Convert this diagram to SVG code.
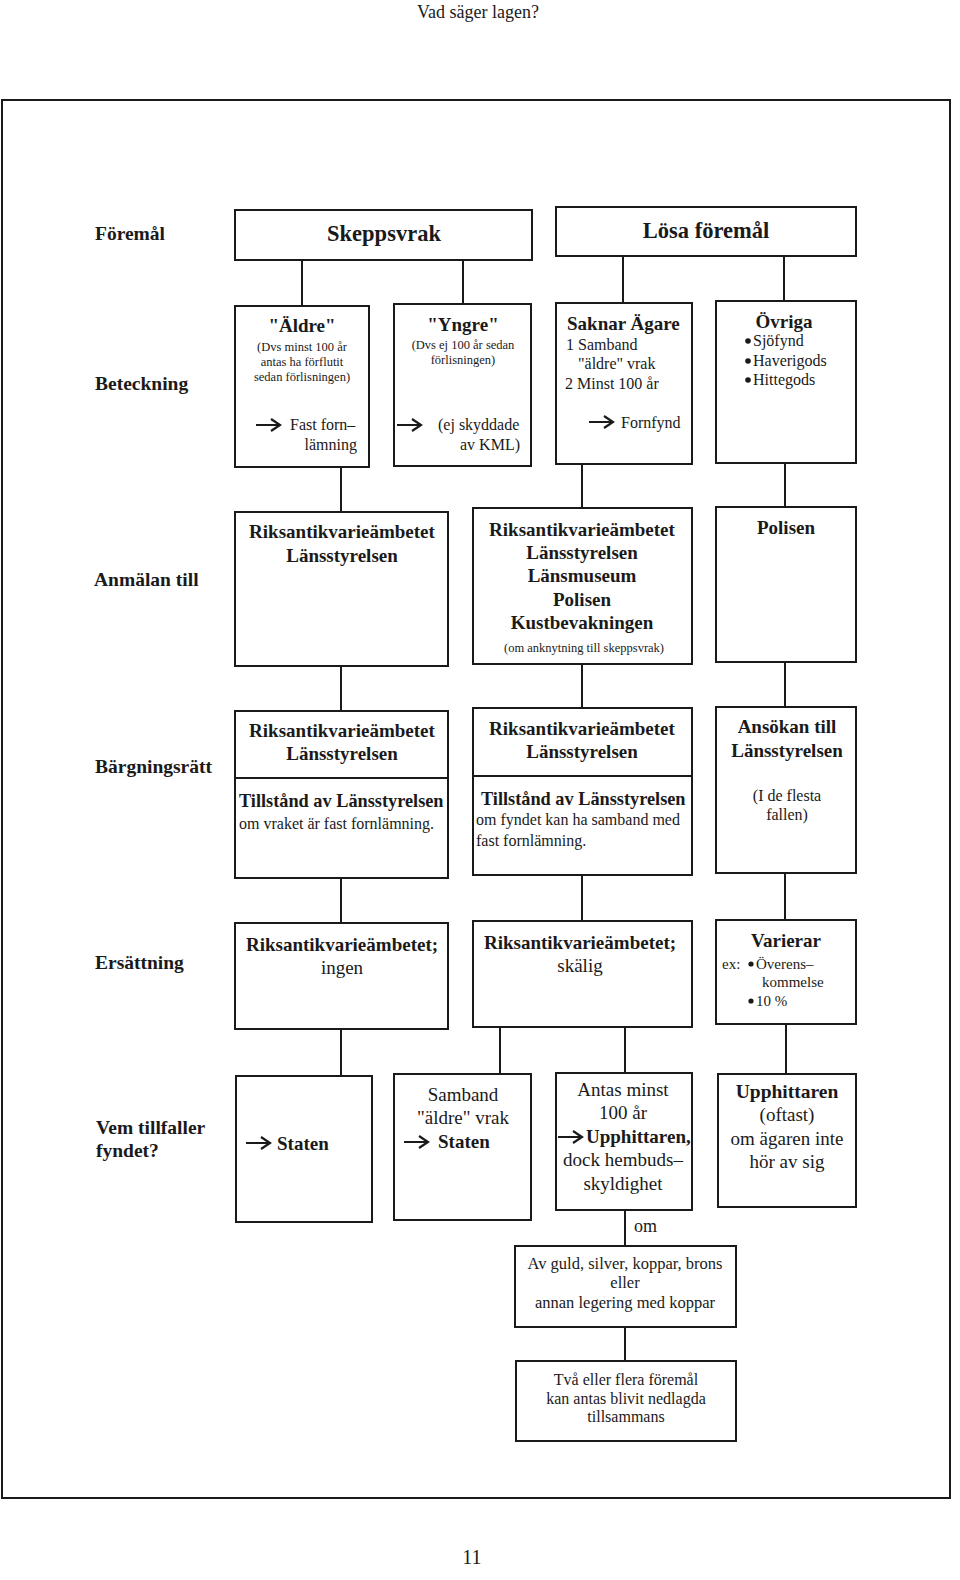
<svg xmlns="http://www.w3.org/2000/svg" width="960" height="1580" viewBox="0 0 960 1580">
<style>
text{font-family:"Liberation Serif","Times New Roman",serif;fill:#1a1a1a}
.b{font-weight:bold}
.c{text-anchor:middle}
.lbl{font-size:19.5px;font-weight:bold}
.box{fill:#fff;stroke:#1a1a1a;stroke-width:2}
.con line{stroke:#1a1a1a;stroke-width:2}
.s12{font-size:12.5px}
.s15{font-size:16px}
.s17{font-size:18px}
.s18{font-size:19px}
.dot{fill:#1a1a1a}
</style>
<defs>
<path id="arr" d="M0 0 H23 M15 -6 L24 0 L15 6" fill="none" stroke="#1a1a1a" stroke-width="2.2"/>
</defs>
<rect x="0" y="0" width="960" height="1580" fill="#fff"/>
<text x="478" y="18" class="c" style="font-size:18px">Vad säger lagen?</text>
<rect x="2" y="100" width="948" height="1398" fill="none" stroke="#1a1a1a" stroke-width="2"/>
<text x="472" y="1564" class="c" style="font-size:20px">11</text>

<g id="labels">
<text x="95" y="240" class="lbl">Föremål</text>
<text x="95" y="390" class="lbl">Beteckning</text>
<text x="94" y="586" class="lbl">Anmälan till</text>
<text x="95" y="773" class="lbl">Bärgningsrätt</text>
<text x="95" y="969" class="lbl">Ersättning</text>
<text x="96" y="1134" class="lbl">Vem tillfaller</text>
<text x="96" y="1157" class="lbl">fyndet?</text>
</g>

<g class="con" id="connectors">
<line x1="302" y1="260" x2="302" y2="306"/>
<line x1="463" y1="260" x2="463" y2="304"/>
<line x1="623" y1="256" x2="623" y2="303"/>
<line x1="784" y1="256" x2="784" y2="301"/>
<line x1="341" y1="467" x2="341" y2="512"/>
<line x1="582" y1="464" x2="582" y2="508"/>
<line x1="785" y1="463" x2="785" y2="507"/>
<line x1="341" y1="666" x2="341" y2="711"/>
<line x1="582" y1="664" x2="582" y2="708"/>
<line x1="785" y1="662" x2="785" y2="707"/>
<line x1="341" y1="878" x2="341" y2="923"/>
<line x1="582" y1="875" x2="582" y2="921"/>
<line x1="785" y1="873" x2="785" y2="920"/>
<line x1="341" y1="1029" x2="341" y2="1076"/>
<line x1="500" y1="1027" x2="500" y2="1074"/>
<line x1="625" y1="1027" x2="625" y2="1073"/>
<line x1="786" y1="1024" x2="786" y2="1074"/>
<line x1="625" y1="1210" x2="625" y2="1246"/>
<line x1="625" y1="1327" x2="625" y2="1361"/>
<text x="634" y="1232" class="s17">om</text>
</g>

<g id="skeppsvrak">
<rect class="box" x="235" y="210" width="297" height="50"/>
<text x="384" y="241" class="b c" style="font-size:22.5px">Skeppsvrak</text>
</g>
<g id="losa">
<rect class="box" x="556" y="207" width="300" height="49"/>
<text x="706" y="238" class="b c" style="font-size:22.5px">Lösa föremål</text>
</g>

<g id="aldre">
<rect class="box" x="235" y="306" width="134" height="161"/>
<text x="302" y="332" class="b c s18">"Äldre"</text>
<text x="302" y="351" class="c s12">(Dvs minst 100 år</text>
<text x="302" y="366" class="c s12">antas ha förflutit</text>
<text x="302" y="381" class="c s12">sedan förlisningen)</text>
<use href="#arr" x="256" y="425"/>
<text x="290" y="430" class="s15">Fast forn–</text>
<text x="357" y="450" class="s15" text-anchor="end">lämning</text>
</g>
<g id="yngre">
<rect class="box" x="394" y="304" width="137" height="162"/>
<text x="463" y="331" class="b c s18">"Yngre"</text>
<text x="463" y="349" class="c s12">(Dvs ej 100 år sedan</text>
<text x="463" y="364" class="c s12">förlisningen)</text>
<use href="#arr" x="397" y="425"/>
<text x="438" y="430" class="s15">(ej skyddade</text>
<text x="520" y="450" class="s15" text-anchor="end">av KML)</text>
</g>
<g id="saknar">
<rect class="box" x="556" y="303" width="136" height="161"/>
<text x="567" y="330" class="b s18">Saknar Ägare</text>
<text x="566" y="350" class="s15">1 Samband</text>
<text x="578" y="369" class="s15">"äldre" vrak</text>
<text x="565" y="389" class="s15">2 Minst 100 år</text>
<use href="#arr" x="589" y="422"/>
<text x="621" y="428" class="s15">Fornfynd</text>
</g>
<g id="ovriga">
<rect class="box" x="716" y="301" width="140" height="162"/>
<text x="784" y="328" class="b c s18">Övriga</text>
<circle class="dot" cx="748" cy="341" r="2.8"/>
<circle class="dot" cx="748" cy="361" r="2.8"/>
<circle class="dot" cx="748" cy="380" r="2.8"/>
<text x="753" y="346" class="s15">Sjöfynd</text>
<text x="753" y="366" class="s15">Haverigods</text>
<text x="753" y="385" class="s15">Hittegods</text>
</g>

<g id="anm1">
<rect class="box" x="235" y="512" width="213" height="154"/>
<text x="342" y="538" class="b c s18">Riksantikvarieämbetet</text>
<text x="342" y="562" class="b c s18">Länsstyrelsen</text>
</g>
<g id="anm2">
<rect class="box" x="473" y="508" width="219" height="156"/>
<text x="582" y="536" class="b c s18">Riksantikvarieämbetet</text>
<text x="582" y="559" class="b c s18">Länsstyrelsen</text>
<text x="582" y="582" class="b c s18">Länsmuseum</text>
<text x="582" y="606" class="b c s18">Polisen</text>
<text x="582" y="629" class="b c s18">Kustbevakningen</text>
<text x="584" y="652" class="c" style="font-size:12.5px">(om  anknytning till skeppsvrak)</text>
</g>
<g id="anm3">
<rect class="box" x="716" y="507" width="140" height="155"/>
<text x="786" y="534" class="b c s18">Polisen</text>
</g>

<g id="barg1">
<rect class="box" x="235" y="711" width="213" height="167"/>
<line x1="235" y1="778" x2="448" y2="778" stroke="#1a1a1a" stroke-width="2"/>
<text x="342" y="737" class="b c s18">Riksantikvarieämbetet</text>
<text x="342" y="760" class="b c s18">Länsstyrelsen</text>
<text x="239" y="807" class="b" style="font-size:18.3px">Tillstånd av Länsstyrelsen</text>
<text x="239" y="829" class="s15">om vraket är fast fornlämning.</text>
</g>
<g id="barg2">
<rect class="box" x="473" y="708" width="219" height="167"/>
<line x1="473" y1="776" x2="692" y2="776" stroke="#1a1a1a" stroke-width="2"/>
<text x="582" y="735" class="b c s18">Riksantikvarieämbetet</text>
<text x="582" y="758" class="b c s18">Länsstyrelsen</text>
<text x="481" y="805" class="b" style="font-size:18.3px">Tillstånd av Länsstyrelsen</text>
<text x="476" y="825" class="s15">om fyndet kan ha samband med</text>
<text x="476" y="846" class="s15">fast fornlämning.</text>
</g>
<g id="barg3">
<rect class="box" x="716" y="707" width="140" height="166"/>
<text x="787" y="733" class="b c s18">Ansökan till</text>
<text x="787" y="757" class="b c s18">Länsstyrelsen</text>
<text x="787" y="801" class="c s15">(I de flesta</text>
<text x="787" y="820" class="c s15">fallen)</text>
</g>

<g id="ers1">
<rect class="box" x="235" y="923" width="213" height="106"/>
<text x="342" y="951" class="b c s18">Riksantikvarieämbetet;</text>
<text x="342" y="974" class="c s18">ingen</text>
</g>
<g id="ers2">
<rect class="box" x="473" y="921" width="219" height="106"/>
<text x="580" y="949" class="b c s18">Riksantikvarieämbetet;</text>
<text x="580" y="972" class="c s18">skälig</text>
</g>
<g id="ers3">
<rect class="box" x="716" y="920" width="140" height="104"/>
<text x="786" y="947" class="b c s18">Varierar</text>
<text x="722" y="969" style="font-size:15px">ex:</text>
<circle class="dot" cx="751" cy="964" r="2.6"/>
<text x="756" y="969" style="font-size:15px">Överens–</text>
<text x="762" y="987" style="font-size:15px">kommelse</text>
<circle class="dot" cx="751" cy="1001" r="2.6"/>
<text x="756" y="1006" style="font-size:15px">10 %</text>
</g>

<g id="vem1">
<rect class="box" x="236" y="1076" width="136" height="146"/>
<use href="#arr" x="246" y="1143"/>
<text x="277" y="1150" class="b s18">Staten</text>
</g>
<g id="vem2">
<rect class="box" x="394" y="1074" width="137" height="146"/>
<text x="463" y="1101" class="c s18">Samband</text>
<text x="463" y="1124" class="c s18">"äldre" vrak</text>
<use href="#arr" x="404" y="1142"/>
<text x="438" y="1148" class="b s18">Staten</text>
</g>
<g id="vem3">
<rect class="box" x="556" y="1073" width="136" height="137"/>
<text x="623" y="1096" class="c s18">Antas minst</text>
<text x="623" y="1119" class="c s18">100 år</text>
<use href="#arr" x="558" y="1137"/>
<text x="586" y="1143" class="b s18">Upphittaren,</text>
<text x="623" y="1166" class="c s18">dock hembuds–</text>
<text x="623" y="1190" class="c s18">skyldighet</text>
</g>
<g id="vem4">
<rect class="box" x="718" y="1074" width="138" height="133"/>
<text x="787" y="1098" class="b c" style="font-size:19.5px">Upphittaren</text>
<text x="787" y="1121" class="c s18">(oftast)</text>
<text x="787" y="1145" class="c s18">om ägaren inte</text>
<text x="787" y="1168" class="c s18">hör av sig</text>
</g>

<g id="guld">
<rect class="box" x="515" y="1246" width="221" height="81"/>
<text x="625" y="1269" class="c" style="font-size:16.5px">Av guld, silver, koppar, brons</text>
<text x="625" y="1288" class="c" style="font-size:16.5px">eller</text>
<text x="625" y="1308" class="c" style="font-size:16.5px">annan legering med koppar</text>
</g>
<g id="tva">
<rect class="box" x="516" y="1361" width="220" height="80"/>
<text x="626" y="1385" class="c s15">Två eller flera föremål</text>
<text x="626" y="1404" class="c s15">kan antas blivit nedlagda</text>
<text x="626" y="1422" class="c s15">tillsammans</text>
</g>
</svg>
